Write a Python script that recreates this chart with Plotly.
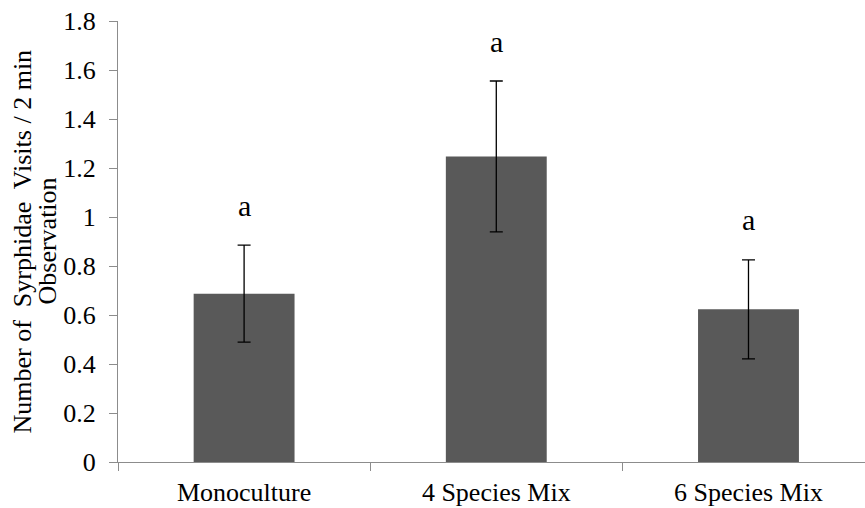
import plotly.graph_objects as go

categories = ["Monoculture", "4 Species Mix", "6 Species Mix"]
means = [0.687, 1.247, 0.623]
errors = [0.198, 0.308, 0.202]
letters = ["a", "a", "a"]
y_title_line1 = "Number of\u00a0 Syrphidae\u00a0 Visits / 2 min"
y_title_line2 = "Observation"

FONT = "Liberation Serif, Times New Roman, serif"
AXIS_COL = "#8c8c8c"

fig = go.Figure()
fig.add_trace(go.Bar(
    x=categories, y=means, width=0.4,
    marker=dict(color="#595959", line=dict(width=0)),
    error_y=dict(type="data", array=errors, visible=True,
                 color="black", thickness=1.3, width=6.5),
))

for c, m, e, l in zip(categories, means, errors, letters):
    fig.add_annotation(x=c, y=m + e, text=l, showarrow=False,
                       yanchor="middle", yshift=40,
                       font=dict(family=FONT, size=30, color="black"))

fig.add_annotation(xref="paper", yref="paper", x=0, y=0.5, xshift=-96,
                   text=y_title_line1, textangle=-90, showarrow=False,
                   xanchor="center", yanchor="middle",
                   font=dict(family=FONT, size=26, color="black"))
fig.add_annotation(xref="paper", yref="paper", x=0, y=0.5, xshift=-71,
                   text=y_title_line2, textangle=-90, showarrow=False,
                   xanchor="center", yanchor="middle",
                   font=dict(family=FONT, size=26, color="black"))

fig.update_layout(
    width=865, height=508,
    margin=dict(l=118, r=0, t=21, b=46, pad=0),
    plot_bgcolor="white", paper_bgcolor="white",
    showlegend=False, bargap=0.6,
    font=dict(family=FONT, size=26, color="black"),
)
fig.update_xaxes(
    type="category", range=[-0.5, 2.462],
    showline=True, linecolor=AXIS_COL, linewidth=1.3,
    ticks="outside", tickson="boundaries", ticklen=8, tickcolor=AXIS_COL,
    ticklabelstandoff=7,
    tickfont=dict(family=FONT, size=26, color="black"),
    showgrid=False, zeroline=False,
)
fig.update_yaxes(
    range=[0, 1.8], dtick=0.2, tick0=0,
    showline=True, linecolor=AXIS_COL, linewidth=1.3,
    ticks="outside", ticklen=8, tickcolor=AXIS_COL,
    ticklabelstandoff=8,
    tickfont=dict(family=FONT, size=26, color="black"),
    showgrid=False, zeroline=False, automargin=False,
)

fig.write_html("out.html")
